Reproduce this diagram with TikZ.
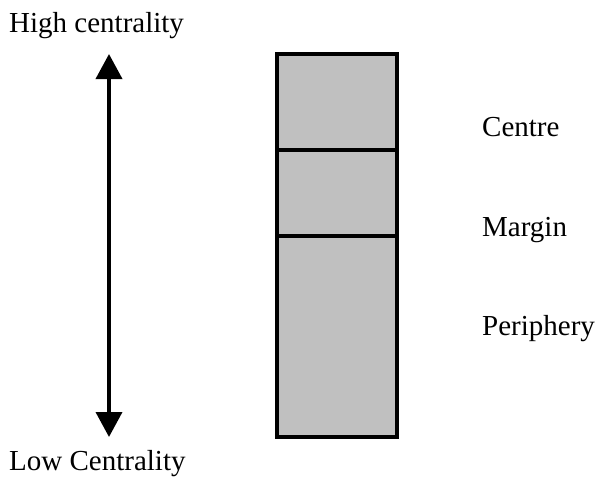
\documentclass[tikz,border=0pt]{standalone}
\usepackage{fontspec}
\setmainfont{Liberation Serif}
\usetikzlibrary{arrows.meta}
\definecolor{bandgray}{HTML}{C0C0C0}
\begin{document}
\begin{tikzpicture}[x=1pt,y=-1pt,
  caption/.style={anchor=base west,inner sep=0pt,font=\fontsize{29}{34}\selectfont},
  band/.style={draw=black,fill=bandgray,line width=4pt,minimum width=120pt,inner sep=0pt},
  axis/.style={line width=3.7pt,{Triangle[length=25pt,width=26pt]}-{Triangle[length=25pt,width=26pt]}}]
  \useasboundingbox (0,0) rectangle (600,477);

  % centrality axis
  \coordinate (hi) at (109,54);
  \coordinate (lo) at (109,437);
  \draw[axis] (lo) -- (hi);
  \node[caption] (hitext) at (9,32) {High centrality};
  \node[caption] (lotext) at (9,470.5) {Low Centrality};

  % stacked bands
  \node[band,minimum height=95.5pt] (centre) at (337,101.75) {};
  \node[band,minimum height=86.5pt] (margin) at (337,192.75) {};
  \node[band,minimum height=201pt] (periphery) at (337,336.5) {};

  % band labels
  \node[caption] (centretext) at (482,136) {Centre};
  \node[caption] (margintext) at (482,236.5) {Margin};
  \node[caption] (peripherytext) at (482,335) {Periphery};
\end{tikzpicture}
\end{document}
